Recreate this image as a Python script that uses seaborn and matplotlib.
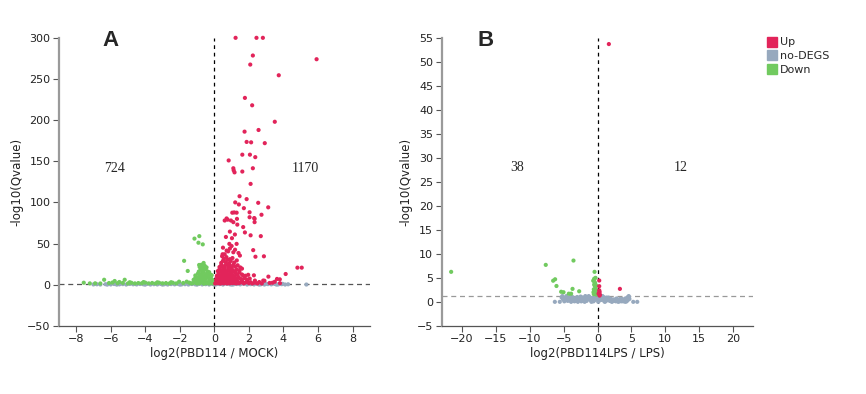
import numpy as np
import pandas as pd
import matplotlib
matplotlib.use("Agg")
import matplotlib.pyplot as plt
from matplotlib.lines import Line2D
import seaborn as sns

sns.set_style("ticks")
plt.rcParams['font.family'] = ['DejaVu Sans']

# colours for the three groups
palette = {'Up': '#E2245A', 'no-DEGS': '#97A9BE', 'Down': '#71CA5F'}
hue_order = ['Up', 'no-DEGS', 'Down']

# ---- Panel A : PBD114 vs MOCK (log2FC, -log10 Q) ----
up_a = [(1.23, 300), (2.44, 300), (2.81, 300), (2.23, 278.5), (5.92, 274), (2.08, 267.5),
        (3.73, 254.5), (1.77, 227), (2.19, 218), (3.5, 198), (2.56, 188), (1.75, 186),
        (1.87, 173.5), (2.13, 173), (2.92, 172), (0.83, 151), (1.62, 158), (2.06, 158),
        (2.37, 155), (1.10, 141.5), (1.12, 139), (1.17, 136.5), (1.62, 137.5), (2.23, 141.5),
        (2.10, 122.5), (1.46, 107.5), (1.87, 104), (1.21, 100), (1.42, 97.5), (1.71, 93),
        (2.54, 99.5), (3.12, 94), (1.04, 87.5), (1.29, 87.5), (2.04, 88), (2.73, 85),
        (2.31, 81), (0.71, 80.5), (1.31, 80), (1.15, 87.8), (0.6, 78), (0.77, 79), (0.96, 78),
        (1.1, 76), (1.33, 73), (1.67, 70), (2.04, 82), (2.33, 80), (2.33, 76), (1.77, 63.5),
        (2.10, 60), (2.69, 59), (0.9, 64.5), (1.19, 61), (0.67, 58), (1.02, 56.5), (0.87, 49.6),
        (1.29, 49.6), (2.25, 42), (0.71, 41.5), (1.1, 39.4), (1.48, 35.4), (2.38, 34),
        (2.87, 34.5), (0.48, 37), (0.9, 31), (1.96, 12), (2.29, 11.4), (3.13, 9.8), (4.13, 13),
        (4.81, 20.7), (5.06, 20.7), (3.79, 6.5), (3.63, 7), (2.35, 5), (2.83, 5), (3.37, 2.4),
        (1.67, 11), (2.6, 3.2), (2.9, 4.8), (3.2, 2.1), (3.5, 3.6), (3.8, 1.8), (2.75, 1.5),
        # dense cluster near the origin
        (0.05, 1.5), (0.1, 2.2), (0.15, 3.1), (0.2, 1.8), (0.25, 4.0), (0.3, 2.5), (0.35, 1.4),
        (0.4, 3.6), (0.45, 2.0), (0.5, 4.5), (0.55, 1.6), (0.6, 3.0), (0.65, 2.2), (0.7, 4.2),
        (0.75, 1.5), (0.8, 2.8), (0.85, 3.9), (0.9, 1.7), (0.95, 2.6), (1.0, 4.4), (1.05, 1.9),
        (1.1, 3.3), (1.15, 2.1), (1.2, 4.0), (1.25, 1.6), (1.3, 2.9), (1.35, 3.8), (1.4, 1.8),
        (1.5, 2.5), (1.6, 3.5), (1.7, 1.7), (1.8, 2.6), (1.9, 4.1), (2.0, 1.9), (2.1, 3.0),
        (2.2, 1.5), (2.35, 2.4), (2.5, 1.6),
        (0.1, 6.0), (0.2, 8.5), (0.3, 5.8), (0.4, 9.2), (0.5, 7.0), (0.6, 5.5), (0.7, 8.8),
        (0.8, 6.5), (0.9, 9.5), (1.0, 7.2), (1.1, 5.6), (1.2, 8.4), (1.3, 6.3), (1.4, 9.0),
        (1.5, 7.5), (1.6, 5.9), (1.75, 8.0), (1.9, 6.2), (2.05, 7.4), (0.35, 7.4), (0.65, 9.8),
        (1.05, 9.1), (0.15, 9.9),
        (0.15, 11.0), (0.25, 13.5), (0.35, 10.5), (0.45, 12.8), (0.55, 14.6), (0.65, 11.4),
        (0.75, 13.2), (0.85, 10.8), (0.95, 14.1), (1.05, 12.0), (1.15, 10.3), (1.25, 13.8),
        (1.35, 11.6), (1.45, 14.9), (1.6, 12.4), (1.8, 10.9), (0.5, 10.2), (1.0, 15.0),
        (0.2, 16.5), (0.3, 18.8), (0.4, 15.6), (0.5, 17.9), (0.6, 19.7), (0.7, 16.2), (0.8, 18.4),
        (0.9, 15.8), (1.0, 19.2), (1.1, 17.0), (1.2, 15.4), (1.3, 18.6), (1.45, 16.8), (1.6, 19.5),
        (0.65, 15.1),
        (0.3, 21.5), (0.4, 23.8), (0.5, 20.6), (0.6, 22.9), (0.7, 24.6), (0.8, 21.2), (0.9, 23.4),
        (1.0, 20.8), (1.1, 24.2), (1.2, 22.0), (1.35, 23.6), (1.5, 21.0),
        (0.4, 26.5), (0.5, 29.0), (0.55, 31.5), (0.65, 27.4), (0.75, 30.2), (0.85, 26.1),
        (0.95, 28.8), (1.05, 32.4), (1.15, 27.0), (1.3, 29.5), (0.7, 33.5), (0.45, 34.6),
        (0.6, 37.0), (0.8, 40.5), (0.9, 44.0), (1.2, 42.5), (1.0, 47.0), (0.5, 45.0), (1.4, 38.5)]

down_a = [(-1.25, 1.8), (-1.15, 3.0), (-1.05, 2.2), (-0.95, 4.1), (-0.85, 1.6), (-0.75, 3.4),
          (-0.65, 2.0), (-0.55, 4.6), (-0.45, 1.7), (-0.35, 3.2), (-0.25, 2.4), (-0.15, 4.0),
          (-0.08, 1.5), (-1.0, 1.4), (-0.6, 1.3), (-0.3, 1.4), (-0.2, 1.9), (-0.5, 2.9),
          (-0.9, 2.7), (-0.7, 4.8),
          (-1.2, 6.0), (-1.1, 8.2), (-1.0, 5.6), (-0.9, 9.4), (-0.8, 6.8), (-0.7, 8.9), (-0.6, 5.4),
          (-0.5, 7.6), (-0.4, 9.6), (-0.3, 6.2), (-0.2, 8.3), (-0.1, 5.8), (-0.55, 9.9), (-0.85, 7.9),
          (-1.1, 11.2), (-0.95, 13.5), (-0.85, 10.6), (-0.75, 12.8), (-0.65, 14.6), (-0.55, 11.0),
          (-0.45, 13.4), (-0.35, 10.4), (-0.25, 12.6), (-0.15, 11.5), (-0.6, 10.0),
          (-0.9, 16.0), (-0.8, 18.5), (-0.7, 15.4), (-0.6, 17.6), (-0.5, 19.2), (-0.4, 16.2),
          (-0.3, 15.2), (-0.65, 19.9),
          (-0.85, 21.5), (-0.75, 24.2), (-0.62, 26.4), (-0.88, 24.0), (-0.55, 22.8), (-0.45, 21.0),
          (-0.7, 20.5),
          (-1.15, 56), (-0.87, 59), (-0.92, 51), (-0.67, 49), (-1.75, 29), (-1.54, 16.7),
          (-7.56, 2.4), (-7.21, 1.6), (-6.38, 6.0), (-5.77, 4.5), (-5.19, 6.0), (-5.5, 3.3),
          (-6.1, 2.0), (-5.9, 2.6), (-5.6, 1.8), (-5.3, 2.2), (-5.0, 1.5), (-4.8, 2.3), (-4.6, 1.6),
          (-4.4, 2.0), (-4.2, 1.7), (-4.0, 2.5), (-3.8, 1.6), (-3.6, 2.1), (-3.4, 1.5), (-3.2, 2.4),
          (-3.0, 1.7), (-2.8, 2.0), (-2.6, 1.5), (-2.4, 2.3), (-2.2, 1.6), (-2.04, 3.7), (-1.8, 2.1),
          (-1.6, 3.7), (-1.45, 2.5), (-1.35, 1.6), (-6.6, 1.5), (-6.9, 1.7), (-4.9, 3.0),
          (-4.1, 3.2), (-3.3, 2.9), (-2.5, 3.0)]

nodeg_a = [(-7.0, 0.3), (-6.8, 0.5), (-6.6, 0.2), (-6.3, 0.6), (-6.0, 0.3), (-5.8, 0.8), (-5.5, 0.4),
           (-5.3, 0.7), (-5.1, 0.2), (-4.9, 0.9), (-4.7, 0.5), (-4.5, 0.3), (-4.3, 0.8), (-4.1, 0.4),
           (-3.9, 1.0), (-3.7, 0.2), (-3.5, 0.6), (-3.3, 0.3), (-3.1, 0.9), (-2.9, 0.5), (-2.7, 0.2),
           (-2.5, 0.7), (-2.3, 0.4), (-2.1, 1.0), (-1.9, 0.3), (-1.7, 0.6), (-1.5, 0.2), (-1.3, 0.8),
           (-1.1, 0.4), (-0.9, 0.9), (-0.7, 0.3), (-0.5, 0.6), (-0.3, 0.2), (-0.1, 0.9), (0.1, 0.4),
           (0.3, 0.7), (0.5, 0.2), (0.7, 1.0), (0.9, 0.5), (1.1, 0.3), (1.3, 0.8), (1.5, 0.4),
           (1.7, 0.9), (1.9, 0.2), (2.1, 0.6), (2.3, 0.3), (2.5, 0.8), (2.7, 0.5), (2.9, 0.2),
           (3.1, 0.7), (3.3, 0.4), (3.5, 0.9), (3.7, 0.3), (3.9, 0.6), (4.1, 0.2), (4.27, 0.5),
           (5.33, 0.2), (3.0, 1.1), (2.2, 1.0), (-2.0, 0.1), (-4.0, 0.1), (0.0, 0.1), (1.0, 0.1),
           (-6.2, 0.1), (3.6, 0.1), (-5.65, 0.1), (-3.0, 0.1), (2.6, 0.1), (3.95, 1.0), (-1.0, 0.1)]

# ---- Panel B : PBD114LPS vs LPS ----
up_b = [(1.67, 53.7), (0.25, 4.44), (0.25, 3.26), (0.25, 2.4), (0.25, 1.9), (0.35, 1.5),
        (0.15, 1.7), (0.3, 2.1), (0.3, 1.3), (3.3, 2.7)]

down_b = [(-21.6, 6.25), (-7.64, 7.7), (-3.55, 8.6), (-6.26, 4.7), (-6.55, 4.4), (-6.06, 3.3),
          (-5.37, 2.1), (-5.02, 2.0), (-4.24, 1.7), (-3.69, 2.7), (-3.9, 1.7), (-2.71, 2.2),
          (-0.44, 6.25), (-0.3, 5.0), (-0.64, 4.4), (-0.5, 4.8), (-0.4, 3.3), (-0.3, 2.8),
          (-0.45, 2.3), (-0.25, 1.9), (-0.55, 1.6), (-0.35, 3.9), (-0.2, 2.5), (-0.6, 2.0),
          (-0.15, 1.5), (-0.5, 3.6), (-0.35, 1.7), (-0.55, 2.6), (-0.2, 3.4), (-0.45, 4.2)]

nodeg_b = [(-6.3, 0.0), (-5.57, 0.0), (5.27, 0.0), (5.86, 0.0), (-5.2, 1.2), (-5.0, 0.8),
           (-4.8, 0.4), (-4.6, 1.0), (-4.4, 0.2), (-4.2, 0.7), (-4.0, 1.1), (-3.8, 0.3),
           (-3.6, 0.8), (-3.4, 0.1), (-3.2, 0.6), (-3.0, 1.0), (-2.8, 0.3), (-2.6, 0.7),
           (-2.4, 0.1), (-2.2, 0.9), (-2.0, 0.4), (-1.8, 1.2), (-1.6, 0.2), (-1.4, 0.7),
           (-1.2, 1.0), (-1.0, 0.3), (-0.8, 0.8), (-0.6, 0.1), (-0.4, 1.1), (-0.2, 0.5),
           (0.0, 0.9), (0.2, 0.2), (0.4, 0.8), (0.6, 0.4), (0.8, 1.1), (1.0, 0.1), (1.2, 0.6),
           (1.4, 0.3), (1.6, 0.9), (1.8, 0.2), (2.0, 0.6), (2.2, 0.1), (2.4, 0.5), (2.6, 0.2),
           (2.8, 0.7), (3.0, 0.1), (3.2, 0.4), (3.4, 0.2), (3.6, 0.6), (3.8, 0.1), (4.0, 0.5),
           (4.2, 0.3), (4.4, 0.9), (4.6, 1.2), (4.7, 0.6), (-4.9, 0.1), (-3.9, 0.0), (-2.9, 0.0),
           (-1.9, 0.0), (-0.9, 0.0), (0.1, 0.0), (1.1, 0.0), (2.1, 0.0), (3.1, 0.0), (4.1, 0.0),
           (-4.5, 0.6), (1.5, 0.5), (-1.5, 0.5), (2.9, 0.4),
           (-5.1, 0.5), (-4.7, 0.8), (-4.3, 0.5), (-3.9, 0.7), (-3.5, 0.4), (-3.1, 0.8),
           (-2.7, 0.5), (-2.3, 0.6), (-1.9, 0.8), (-1.5, 0.9), (-1.1, 0.6), (-0.7, 0.5),
           (-0.3, 0.8), (0.1, 0.6), (0.5, 0.6), (0.9, 0.8), (1.3, 0.9), (1.7, 0.5), (2.1, 0.4),
           (2.5, 0.3), (2.9, 0.3), (3.3, 0.6), (3.7, 0.4), (4.1, 0.7), (4.5, 0.4),
           (-4.6, 1.2), (-3.7, 1.0), (-2.5, 1.1), (-1.3, 1.2), (-0.1, 1.2), (0.7, 1.2),
           (-4.1, 0.3), (-3.3, 0.2), (-2.1, 0.2), (-1.7, 0.3), (-0.5, 0.3), (0.3, 0.4),
           (1.9, 0.3), (2.7, 0.1), (3.5, 0.1), (4.3, 0.1), (-5.3, 0.9), (4.65, 1.0)]

counts_a = ('724', '1170')
counts_b = ('38', '12')
threshold = 1.3  # -log10(0.05)


def make_df(up, nodeg, down):
    rows = []
    for grp, pts in (('no-DEGS', nodeg), ('Down', down), ('Up', up)):
        for x, y in pts:
            rows.append({'log2FC': x, 'negLogQ': y, 'group': grp})
    return pd.DataFrame(rows)


df_a = make_df(up_a, nodeg_a, down_a)
df_b = make_df(up_b, nodeg_b, down_b)

fig = plt.figure(figsize=(8.66, 3.94), dpi=100)
ax_a = fig.add_axes([0.068, 0.173, 0.359, 0.731])
ax_b = fig.add_axes([0.510, 0.173, 0.360, 0.731])


def style_axis(ax, xlim, ylim, xticks, yticks, xlabel, hcolor):
    ax.set_xlim(*xlim)
    ax.set_ylim(*ylim)
    ax.set_xticks(xticks)
    ax.set_yticks(yticks)
    ax.axvline(0, color='black', linestyle=(0, (3, 3)), linewidth=0.9, zorder=1)
    ax.axhline(threshold, color=hcolor, linestyle=(0, (4, 3)), linewidth=0.9, zorder=1)
    ax.set_xlabel(xlabel, fontsize=8.5, color='#222222', labelpad=2)
    ax.set_ylabel('-log10(Qvalue)', fontsize=8.5, color='#222222', labelpad=3)
    sns.despine(ax=ax)
    ax.spines['left'].set_color('#9a9a9a')
    ax.spines['left'].set_linewidth(1.6)
    ax.spines['bottom'].set_color('#555555')
    ax.spines['bottom'].set_linewidth(0.9)
    ax.tick_params(axis='both', direction='out', length=4, width=0.8,
                   color='#555555', labelsize=8, labelcolor='#222222', pad=2)


for ax, df in ((ax_a, df_a), (ax_b, df_b)):
    sns.scatterplot(data=df, x='log2FC', y='negLogQ', hue='group', hue_order=hue_order,
                    palette=palette, s=9, linewidth=0, ax=ax, legend=False, zorder=3)
    for coll in ax.collections:
        coll.set_clip_on(False)

style_axis(ax_a, (-9, 9), (-50, 300), range(-8, 9, 2), range(-50, 301, 50),
           'log2(PBD114 / MOCK)', '#555555')
style_axis(ax_b, (-23, 23), (-5, 55), range(-20, 21, 5), range(-5, 56, 5),
           'log2(PBD114LPS / LPS)', '#999999')

# numbers of down / up genes
ax_a.text(-5.75, 141, counts_a[0], fontsize=10, family='Liberation Serif', ha='center', va='center')
ax_a.text(5.25, 141, counts_a[1], fontsize=10, family='Liberation Serif', ha='center', va='center')
ax_b.text(-11.9, 28, counts_b[0], fontsize=10, family='Liberation Serif', ha='center', va='center')
ax_b.text(12.3, 28, counts_b[1], fontsize=10, family='Liberation Serif', ha='center', va='center')

# panel letters
fig.text(110 / 866, 1 - 40 / 394, 'A', fontsize=16, fontweight='bold',
         family='Liberation Sans', ha='center', va='center')
fig.text(486 / 866, 1 - 40 / 394, 'B', fontsize=16, fontweight='bold',
         family='Liberation Sans', ha='center', va='center')

handles = [Line2D([], [], marker='s', linestyle='', markersize=6.5,
                  color=palette[g], label=g) for g in hue_order]
fig.legend(handles=handles, loc='upper left', bbox_to_anchor=(762 / 866, 1 - 33 / 394),
           frameon=False, fontsize=8, handletextpad=0.2, labelspacing=0.35,
           borderaxespad=0, handlelength=1.0)

plt.savefig('out.png', dpi=100)
